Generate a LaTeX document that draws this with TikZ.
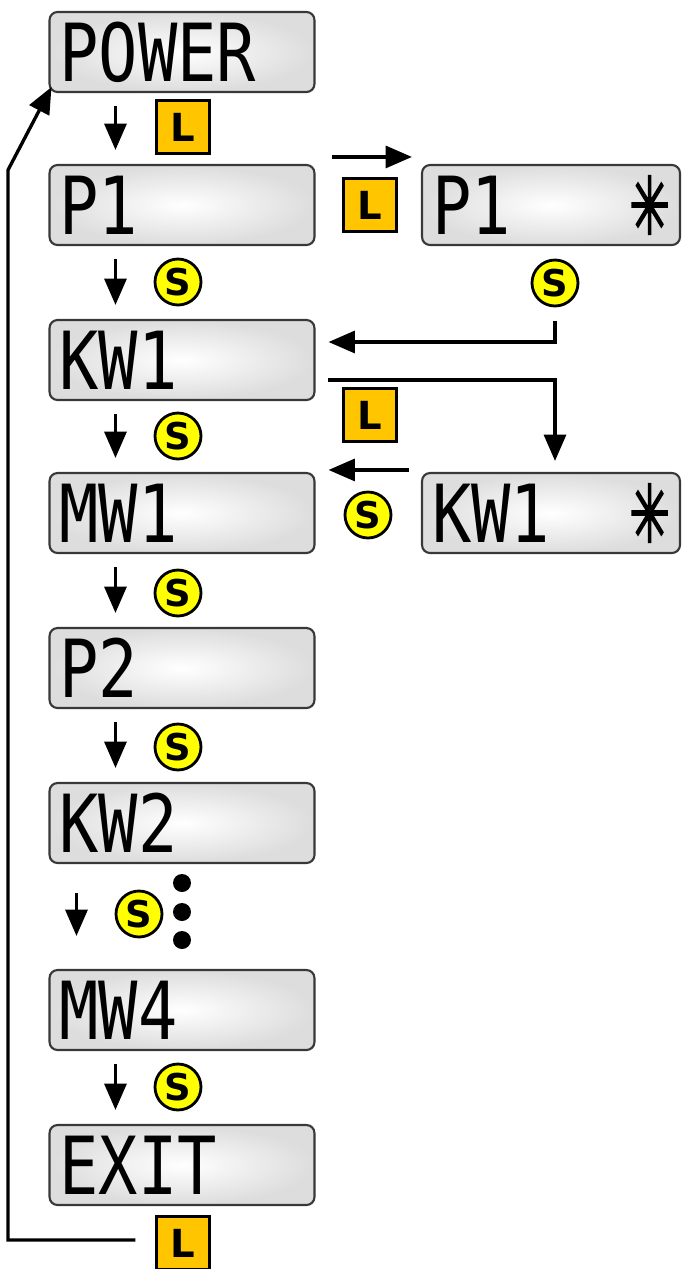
\documentclass[tikz,border=0pt]{standalone}
\usepackage{fontspec}
\usetikzlibrary{positioning,calc,arrows.meta}
\newfontfamily\lcdfont{DejaVu Sans Mono}
\newfontfamily\symfont[FakeBold=2.5]{DejaVu Sans}
\newfontfamily\keyfont{DejaVu Sans}
\definecolor{keyorange}{HTML}{FFC600}
\definecolor{keyyellow}{HTML}{FFFF00}
\definecolor{lcdedge}{HTML}{383838}
\newcommand{\lcdtext}[1]{\scalebox{1.55}[1.9]{\lcdfont\fontsize{24}{24}\selectfont #1}}
\newcommand{\lcdstar}{\scalebox{1.15}[1.9]{\symfont\fontsize{24}{24}\selectfont ✳}}

\tikzset{
  lcd/.style={draw=lcdedge, line width=1.2pt, rounded corners=0.16cm, inner color=white, outer color=gray!27,
    minimum height=1.6cm, text width=4.9cm, inner xsep=0.2cm, align=left},
  lkey/.style={draw, line width=1.5pt, fill=keyorange, minimum size=1.05cm, inner sep=0pt,
    font=\keyfont\bfseries\fontsize{22}{22}\selectfont},
  skey/.style={circle, draw, line width=1.6pt, fill=keyyellow, minimum size=0.92cm, inner sep=0pt,
    font=\keyfont\bfseries\fontsize{21}{21}\selectfont},
  arr/.style={line width=1.9pt, -{Triangle[length=15pt,width=12.5pt]}},
  dot/.style={circle, fill=black, minimum size=0.36cm, inner sep=0pt}
}

\begin{document}
\begin{tikzpicture}[x=0.02cm, y=-0.02cm]
    \useasboundingbox (0,0) rectangle (681,1269);

    % Displays, main column
    \node[lcd] (power) at (182,52) {\lcdtext{POWER}};
    \node[lcd] (p1) at (182,205) {\lcdtext{P1}};
    \node[lcd] (kw1) at (182,360) {\lcdtext{KW1}};
    \node[lcd] (mw1) at (182,513) {\lcdtext{MW1}};
    \node[lcd] (p2) at (182,668) {\lcdtext{P2}};
    \node[lcd] (kw2) at (182,823) {\lcdtext{KW2}};
    \node[lcd] (mw4) at (182,1010) {\lcdtext{MW4}};
    \node[lcd] (exit) at (182,1165) {\lcdtext{EXIT}};

    % Displays, edit mode
    \node[lcd, text width=4.76cm] (p1s) at (551,205) {\lcdtext{P1}\hfill\lcdstar};
    \node[lcd, text width=4.76cm] (kw1s) at (551,513) {\lcdtext{KW1}\hfill\lcdstar};

    % Keys
    \node[lkey] (lpower) at (183,127) {L};
    \node[skey] (sp1) at (178,282) {S};
    \node[skey] (skw1) at (178,436) {S};
    \node[skey] (smw1) at (178,593) {S};
    \node[skey] (sp2) at (178,747) {S};
    \node[skey] (skw2) at (139,914) {S};
    \node[skey] (smw4) at (178,1087) {S};
    \node[lkey] (lexit) at (183,1243) {L};
    \node[lkey] (lp1) at (370,205) {L};
    \node[skey] (sp1s) at (555,283) {S};
    \node[lkey] (lkw1) at (370,415) {L};
    \node[skey] (skw1s) at (368,515) {S};

    % Dots
    \foreach \n/\y in {1/883,2/912,3/940}
        \node[dot] (dot\n) at (182,\y) {};

    % Steps down
    \foreach \a/\b in {power/p1,p1/kw1,kw1/mw1,mw1/p2,p2/kw2,mw4/exit}
        \draw[arr] ($(\a.south west)+(67,13)$) -- ($(\b.north west)+(67,-14)$);
    \draw[arr] ($(kw2.south west)+(28,29)$) -- ($(mw4.north west)+(28,-33)$);

    % Edit mode
    \draw[arr] ($(p1.north east)+(16,-7)$) -- ($(p1s.north west)+(-9,-7)$);
    \draw[arr] ($(sp1s.south)+(0,14)$) |- ($(kw1.east)+(13,-18)$);
    \draw[arr] ($(kw1.east)+(12,20)$) -| ($(kw1s.north)+(4,-11)$);
    \draw[arr] ($(kw1s.north west)+(-12,-2)$) -- ($(mw1.north east)+(13,-2)$);

    % Back to start
    \coordinate (loopturn) at (8,170);
    \draw[arr] ($(lexit.west)+(-20,-3)$) -| (loopturn) -- ($(power.south west)+(3,-6)$);
\end{tikzpicture}
\end{document}
